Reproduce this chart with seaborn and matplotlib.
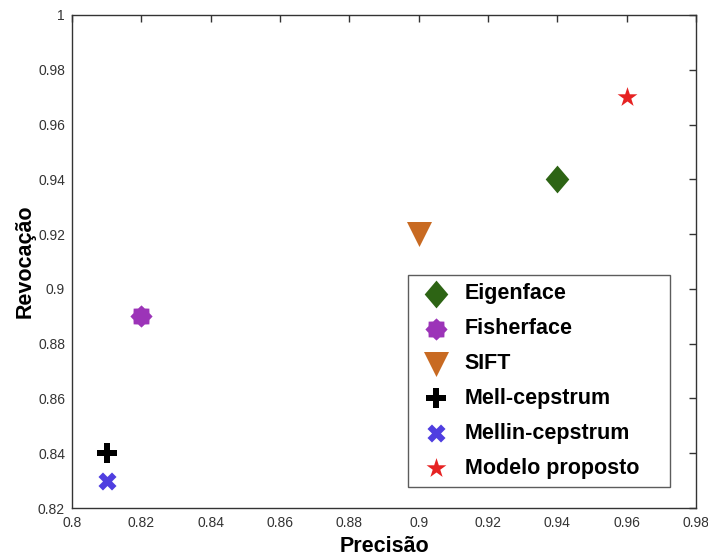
import numpy as np
import pandas as pd
import matplotlib
matplotlib.use("Agg")
import matplotlib.pyplot as plt
from matplotlib.path import Path
import seaborn as sns

# Data
methods = ["Eigenface", "Fisherface", "SIFT", "Mell-cepstrum", "Mellin-cepstrum", "Modelo proposto"]
precisao = [0.94, 0.82, 0.90, 0.81, 0.81, 0.96]
revocacao = [0.94, 0.89, 0.92, 0.84, 0.83, 0.97]

colors = ["#2d6414", "#9c34b8", "#c86a22", "#000000", "#4f3ee0", "#e62222"]

# custom shapes: slightly narrow diamond, rounded 8-point "flower"
diamond = Path([(0, 1), (0.85, 0), (0, -1), (-0.85, 0), (0, 1)],
               [Path.MOVETO, Path.LINETO, Path.LINETO, Path.LINETO, Path.CLOSEPOLY])
flower = Path.unit_regular_star(8, 0.78)
markers = [diamond, flower, "v", "P", "X", "*"]
sizes = [20, 16, 18, 15, 13, 15]

df = pd.DataFrame({"Método": methods, "Precisão": precisao, "Revocação": revocacao})

sns.set_style("white")
plt.rcParams['font.family'] = ['Liberation Sans', 'DejaVu Sans']
plt.rcParams['text.color'] = 'black'
plt.rcParams['axes.labelcolor'] = 'black'

fig = plt.figure(figsize=(7.08, 5.58), dpi=100)
ax = fig.add_axes([72/708, 1-508/558, 624/708, 493/558])

for i, row in df.iterrows():
    sns.scatterplot(x=[row["Precisão"]], y=[row["Revocação"]], ax=ax,
                    marker=markers[i], color=colors[i], s=sizes[i]**2,
                    linewidth=0, label=row["Método"])

ax.set_xlim(0.8, 0.98)
ax.set_ylim(0.82, 1.0)
ax.set_xticks(np.arange(0.8, 0.981, 0.02))
ax.set_yticks(np.arange(0.82, 1.001, 0.02))
ax.set_xticklabels(["0.8", "0.82", "0.84", "0.86", "0.88", "0.9", "0.92", "0.94", "0.96", "0.98"])
ax.set_yticklabels(["0.82", "0.84", "0.86", "0.88", "0.9", "0.92", "0.94", "0.96", "0.98", "1"])
ax.tick_params(direction="in", length=5, width=1, top=True, right=True,
               labeltop=False, labelright=False, labelsize=10, labelcolor="#333333",
               color="#333333")
ax.tick_params(axis="y", pad=5)
ax.tick_params(axis="x", pad=6)
for sp in ax.spines.values():
    sp.set_color("#333333")
    sp.set_linewidth(1)

ax.set_xlabel("Precisão", fontsize=15.5, fontweight="bold", labelpad=4)
ax.set_ylabel("Revocação", fontsize=15.5, fontweight="bold", labelpad=2)

# legend box stretched to the width seen in the reference
leg = ax.legend(loc="lower left", bbox_to_anchor=(0.538, 0.043, 0.42, 0.43),
                mode="expand", borderaxespad=0,
                prop={"size": 15.5, "weight": "bold"}, frameon=True, fancybox=False,
                edgecolor="#333333", labelspacing=0.645, handletextpad=0.41,
                handlelength=1.87, borderpad=0.37)
leg.get_frame().set_linewidth(1)
for h, s in zip(leg.legend_handles, sizes):
    h.set_sizes([s**2])

fig.savefig("out.png", dpi=100)
